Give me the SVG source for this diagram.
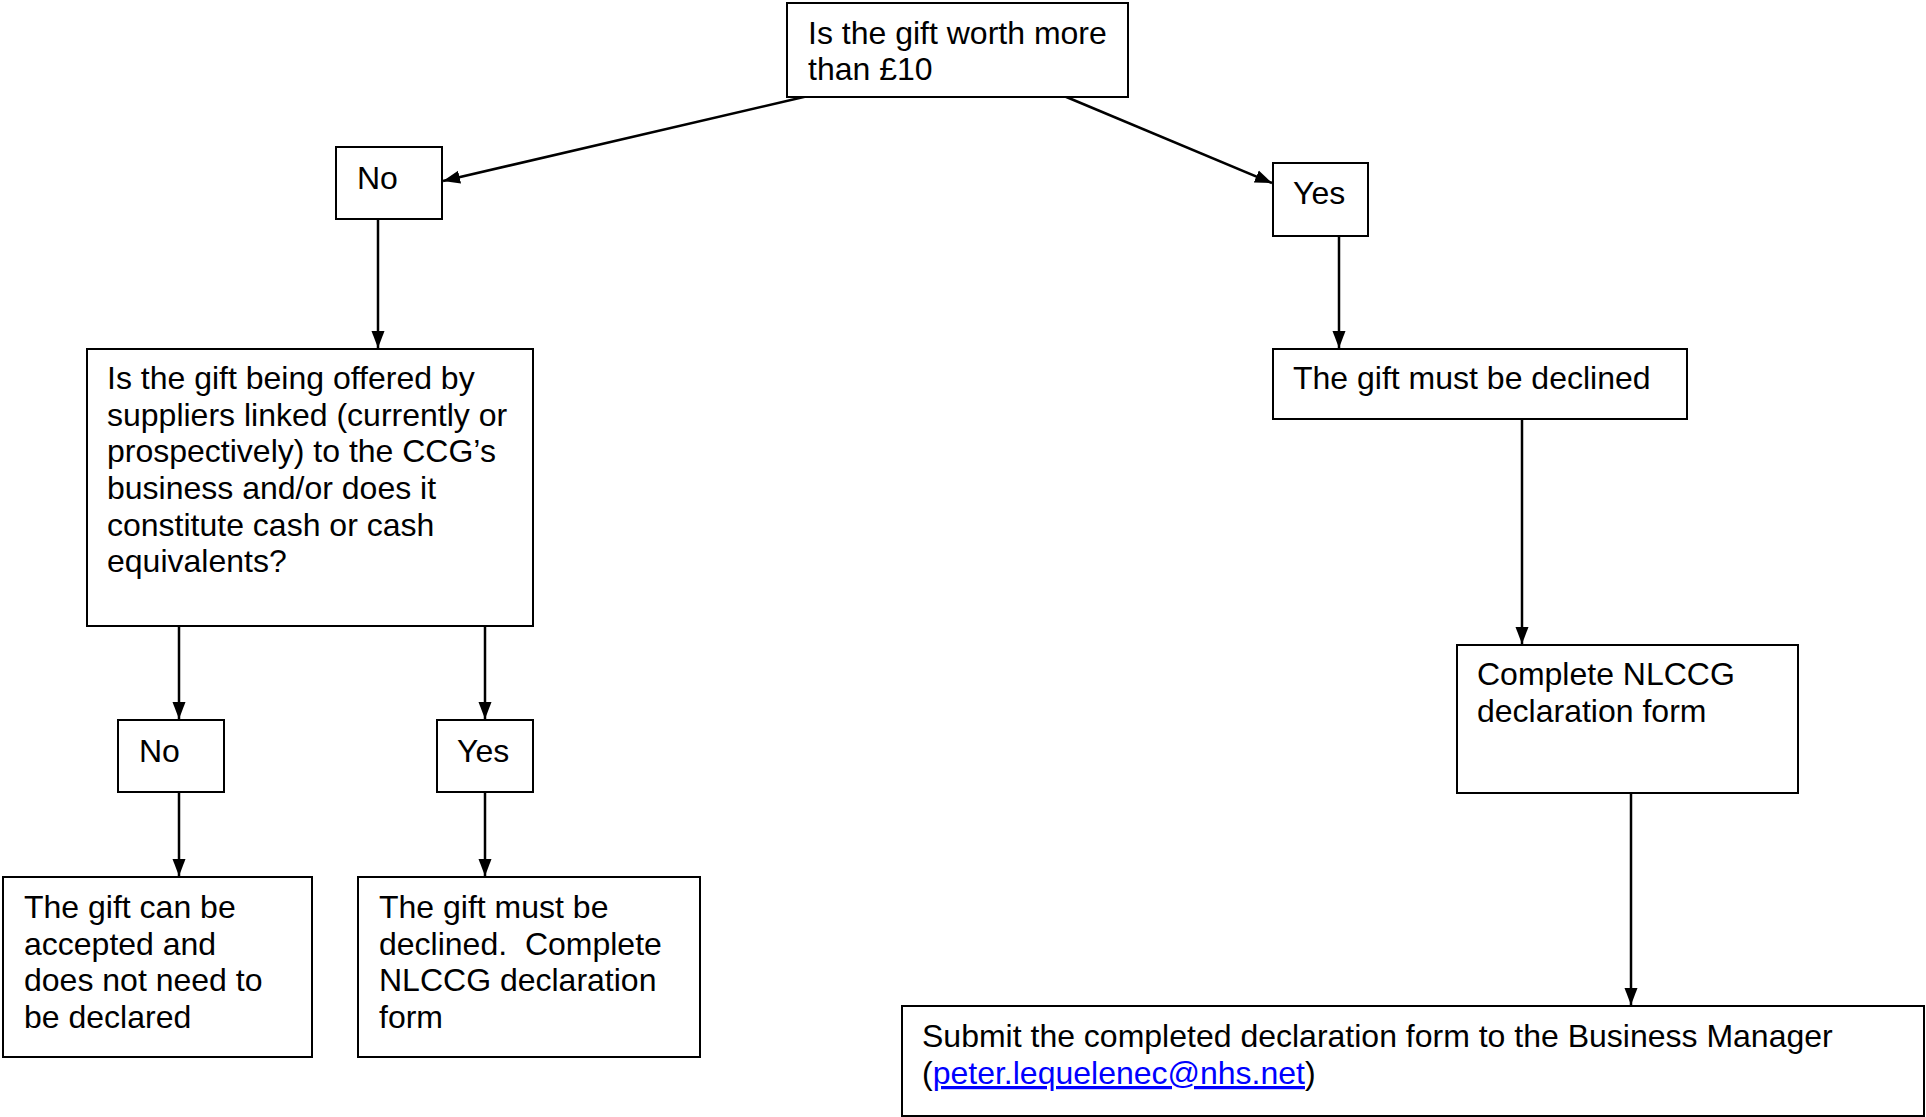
<svg xmlns="http://www.w3.org/2000/svg" width="1926" height="1117" viewBox="0 0 1926 1117">
<style>
  .box { fill: #ffffff; stroke: #000000; stroke-width: 2; }
  .t { font-family: "Liberation Sans", Arial, sans-serif; font-size: 32px; fill: #000000; }
  .link { fill: #0000ff; text-decoration: underline; }
  .conn { stroke: #000000; stroke-width: 2.5; fill: none; marker-end: url(#arrow); }
</style>
<defs>
  <marker id="arrow" markerUnits="userSpaceOnUse" markerWidth="18" markerHeight="14" refX="17" refY="7" orient="auto">
    <path d="M0,0.5 L17,7 L0,13.5 Z" fill="#000000"/>
  </marker>
</defs>
<rect width="1926" height="1117" fill="#ffffff"/>

<g id="connectors">
  <line class="conn" x1="808" y1="96" x2="443" y2="181"/>
  <line class="conn" x1="1064" y1="96" x2="1272" y2="183"/>
  <line class="conn" x1="378" y1="219" x2="378" y2="348"/>
  <line class="conn" x1="179" y1="626" x2="179" y2="719"/>
  <line class="conn" x1="485" y1="626" x2="485" y2="719"/>
  <line class="conn" x1="179" y1="792" x2="179" y2="876"/>
  <line class="conn" x1="485" y1="792" x2="485" y2="876"/>
  <line class="conn" x1="1339" y1="236" x2="1339" y2="348"/>
  <line class="conn" x1="1522" y1="419" x2="1522" y2="644"/>
  <line class="conn" x1="1631" y1="793" x2="1631" y2="1005"/>
</g>

<g id="q-worth">
  <rect class="box" x="787" y="3" width="341" height="94"/>
  <text class="t" x="808" y="44">Is the gift worth more</text>
  <text class="t" x="808" y="80">than £10</text>
</g>

<g id="no-1">
  <rect class="box" x="336" y="147" width="106" height="72"/>
  <text class="t" x="357" y="189">No</text>
</g>

<g id="yes-1">
  <rect class="box" x="1273" y="163" width="95" height="73"/>
  <text class="t" x="1293" y="204">Yes</text>
</g>

<g id="q-suppliers">
  <rect class="box" x="87" y="349" width="446" height="277"/>
  <text class="t" x="107" y="389">Is the gift being offered by</text>
  <text class="t" x="107" y="426">suppliers linked (currently or</text>
  <text class="t" x="107" y="462">prospectively) to the CCG’s</text>
  <text class="t" x="107" y="499">business and/or does it</text>
  <text class="t" x="107" y="536">constitute cash or cash</text>
  <text class="t" x="107" y="572">equivalents?</text>
</g>

<g id="no-2">
  <rect class="box" x="118" y="720" width="106" height="72"/>
  <text class="t" x="139" y="762">No</text>
</g>

<g id="yes-2">
  <rect class="box" x="437" y="720" width="96" height="72"/>
  <text class="t" x="457" y="762">Yes</text>
</g>

<g id="accept">
  <rect class="box" x="3" y="877" width="309" height="180"/>
  <text class="t" x="24" y="918">The gift can be</text>
  <text class="t" x="24" y="955">accepted and</text>
  <text class="t" x="24" y="991">does not need to</text>
  <text class="t" x="24" y="1028">be declared</text>
</g>

<g id="decline-complete">
  <rect class="box" x="358" y="877" width="342" height="180"/>
  <text class="t" x="379" y="918">The gift must be</text>
  <text class="t" x="379" y="955" xml:space="preserve">declined.  Complete</text>
  <text class="t" x="379" y="991">NLCCG declaration</text>
  <text class="t" x="379" y="1028">form</text>
</g>

<g id="decline">
  <rect class="box" x="1273" y="349" width="414" height="70"/>
  <text class="t" x="1293" y="389">The gift must be declined</text>
</g>

<g id="complete-form">
  <rect class="box" x="1457" y="645" width="341" height="148"/>
  <text class="t" x="1477" y="685">Complete NLCCG</text>
  <text class="t" x="1477" y="722">declaration form</text>
</g>

<g id="submit">
  <rect class="box" x="902" y="1006" width="1022" height="110"/>
  <text class="t" x="922" y="1047">Submit the completed declaration form to the Business Manager</text>
  <text class="t" x="922" y="1084">(<tspan class="link">peter.lequelenec@nhs.net</tspan>)</text>
</g>
</svg>
